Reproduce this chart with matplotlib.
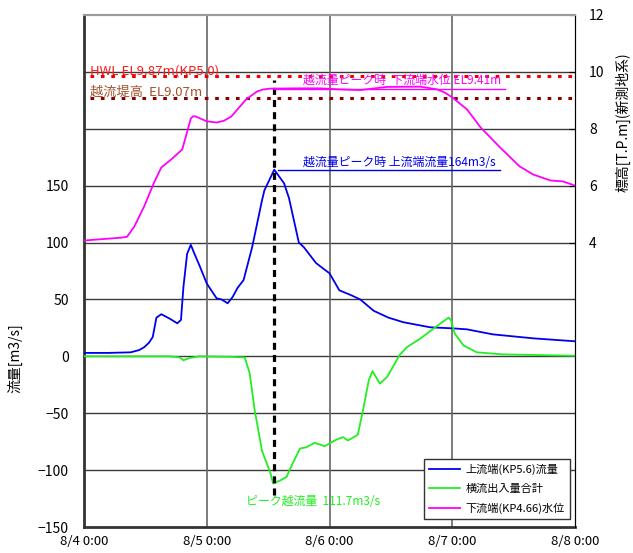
import matplotlib
matplotlib.use("Agg")
import matplotlib.pyplot as plt

plt.rcParams['font.family'] = ['Noto Sans CJK JP', 'DejaVu Sans']

# ---- data (x in days since 8/4 0:00) ----
x_labels = ["8/4 0:00", "8/5 0:00", "8/6 0:00", "8/7 0:00", "8/8 0:00"]
x_ticks = [0, 1, 2, 3, 4]

up_t = [0.0, 0.20, 0.38, 0.45, 0.49, 0.53, 0.56, 0.59, 0.63, 0.70, 0.76, 0.79, 0.81, 0.84, 0.87,
        0.90, 0.94, 1.00, 1.08, 1.12, 1.17, 1.21, 1.25, 1.30, 1.37, 1.45, 1.47, 1.51, 1.55, 1.59,
        1.63, 1.67, 1.75, 1.79, 1.89, 1.95, 2.00, 2.08, 2.17, 2.25, 2.36, 2.48, 2.60, 2.82,
        3.00, 3.12, 3.33, 3.66, 4.00]
up_q = [3.0, 3.0, 3.5, 5.5, 8, 12, 17, 34, 37, 33, 29, 32, 61, 90, 98,
        90, 80, 64, 51, 50, 46.6, 52, 60, 67, 96, 137, 146, 155, 164, 158,
        152, 139, 100, 96, 82, 77, 73, 58, 54, 50, 40, 34, 30, 25.5,
        24.6, 23.7, 19.3, 15.8, 13.2]

lat_t = [0.0, 0.70, 0.78, 0.81, 0.86, 0.94, 1.20, 1.31, 1.35, 1.39, 1.45, 1.52, 1.54,
         1.60, 1.65, 1.70, 1.76, 1.81, 1.88, 1.96, 2.06, 2.11, 2.15, 2.23, 2.27, 2.32,
         2.35, 2.41, 2.47, 2.57, 2.63, 2.74, 2.88, 2.97, 2.99, 3.02, 3.09, 3.20, 3.41, 4.00]
lat_q = [0.0, 0.0, -1.0, -3.5, -1.5, 0.0, -0.5, -1.0, -15, -47, -83, -103, -111.7,
         -109, -106, -94, -81, -80, -76, -79, -73, -71, -74, -69, -49, -21,
         -13, -24, -18, 1, 8, 15.6, 27, 34, 31.7, 20, 9.7, 3.5, 1.7, 0.5]

dn_t = [0.0, 0.30, 0.35, 0.41, 0.49, 0.57, 0.63, 0.71, 0.80, 0.83, 0.87, 0.89, 0.91, 1.00,
        1.08, 1.14, 1.20, 1.25, 1.32, 1.41, 1.46, 1.52, 1.74, 1.92, 2.10, 2.25, 2.47, 2.74, 2.88,
        2.94, 3.00, 3.12, 3.23, 3.39, 3.55, 3.66, 3.80, 3.90, 4.00]
dn_h = [4.07, 4.17, 4.2, 4.56, 5.27, 6.1, 6.64, 6.92, 7.27, 7.73, 8.36, 8.44, 8.43, 8.26,
        8.22, 8.28, 8.43, 8.68, 9.03, 9.31, 9.38, 9.41, 9.42, 9.42, 9.38, 9.36, 9.47, 9.48, 9.38,
        9.27, 9.1, 8.68, 8.05, 7.34, 6.67, 6.39, 6.18, 6.15, 6.0]

t_peak = 1.548
hwl = 9.87
weir = 9.07
peak_h = 9.41
peak_q = 164
peak_over = -111.7

# ---- figure ----
fig = plt.figure(figsize=(6.33, 5.53), dpi=100)
ax = fig.add_axes([0.1327, 0.047, 0.7757, 0.926])
ax2 = ax.twinx()

ax.set_xlim(0, 4)
ax.set_ylim(-150, 300)
ax2.set_ylim(-6, 12)

ax.set_xticks(x_ticks)
ax.set_xticklabels(x_labels, fontsize=9.5)
ax.set_yticks([-150, -100, -50, 0, 50, 100, 150])
ax.tick_params(axis='y', labelsize=10, direction='in', length=0, pad=11)
ax.tick_params(axis='x', direction='in', length=0, pad=6)
ax2.set_yticks([4, 6, 8, 10, 12])
ax2.tick_params(axis='y', labelsize=10, direction='in', length=4, pad=10)

# grid
for v in range(-100, 300, 50):
    ax.axhline(v, color='#3a3a3a', lw=1.0, zorder=1)
for d in [1, 2, 3]:
    ax.axvline(d, color='#666666', lw=1.2, zorder=1)

for s in ['left', 'bottom']:
    ax.spines[s].set_color('#333333')
    ax.spines[s].set_linewidth(2.0)
ax.spines['top'].set_color('#9a9a9a')
ax.spines['top'].set_linewidth(1.5)
ax.spines['right'].set_color('black')
ax2.spines['right'].set_color('black')
ax2.spines['top'].set_color('#9a9a9a')
ax2.spines['top'].set_linewidth(1.5)
ax2.spines['left'].set_visible(False)
ax2.spines['bottom'].set_visible(False)

l1, = ax.plot(up_t, up_q, color='#0000ee', lw=1.3, label='上流端(KP5.6)流量', zorder=3)
l2, = ax.plot(lat_t, lat_q, color='#22ee22', lw=1.3, label='横流出入量合計', zorder=3)
l3, = ax2.plot(dn_t, dn_h, color='#ff00ff', lw=1.3, label='下流端(KP4.66)水位', zorder=3)

# reference levels
ax2.plot([0.05, 4], [hwl, hwl], color='#ee0000', lw=2.2, ls=(0, (1.2, 2.2)), zorder=2)
ax2.plot([0.05, 4], [weir, weir], color='#880000', lw=2.2, ls=(0, (1.2, 2.2)), zorder=2)
ax2.text(0.05, 10.03, 'HWL EL9.87m(KP5.0)', color='#ff1a1a', fontsize=9.5,
         va='center', ha='left')
ax2.text(0.05, 9.28, '越流堤高  EL9.07m', color='#a0522d', fontsize=9.5,
         va='center', ha='left')

# peak markers
ax.plot([t_peak, t_peak], [-122, 243], color='black', lw=2.3, ls=(0, (2.2, 1.6)), zorder=4)
ax2.plot([t_peak, 3.43], [peak_h, peak_h], color='#ff00ff', lw=1.0, zorder=3)
ax2.text(1.784, 9.47, '越流量ピーク時  下流端水位 EL9.41m', color='#ff00ff', fontsize=8.6,
         va='bottom', ha='left')
ax.plot([1.58, 3.39], [peak_q, peak_q], color='#0000ee', lw=1.0, zorder=3)
ax.text(1.784, peak_q + 1.0, '越流量ピーク時 上流端流量164m3/s', color='#0000ee', fontsize=8.6,
        va='bottom', ha='left')
ax.text(1.32, -128, 'ピーク越流量  111.7m3/s', color='#22ee22', fontsize=8.6,
        va='center', ha='left')

ax.set_ylabel('流量[m3/s]', fontsize=10, labelpad=4)
ax2.set_ylabel('標高[T.P.m](新測地系)', fontsize=10, labelpad=8)
ax2.yaxis.set_label_coords(1.083, 0.79)
ax.yaxis.set_label_coords(-0.125, 0.33)

leg = ax2.legend(handles=[l1, l2, l3], loc='lower right', bbox_to_anchor=(0.99, 0.016),
                 borderaxespad=0, fontsize=8, frameon=True, fancybox=False,
                 edgecolor='#333333', framealpha=1, handlelength=2.8, handletextpad=0.5,
                 borderpad=0.45, labelspacing=0.8)
leg.get_frame().set_linewidth(1.0)

fig.savefig('out.png', dpi=100)
